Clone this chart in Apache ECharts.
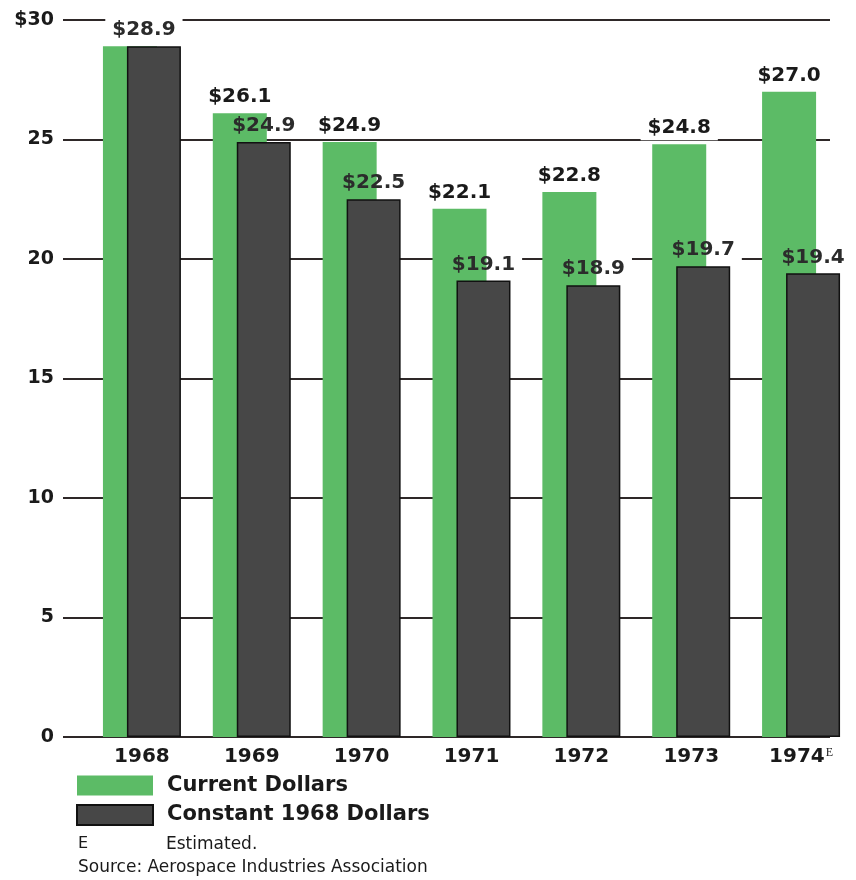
<!DOCTYPE html>
<html><head><meta charset="utf-8">
<script src="https://cdn.jsdelivr.net/npm/echarts@6/dist/echarts.min.js"></script>
<style>html,body{margin:0;padding:0;background:#fff}#c{width:856px;height:880px}</style>
</head><body><div id="c"></div>
<script>
const years = ['1968','1969','1970','1971','1972','1973','1974'];
const estimatedYear = '1974';
const currentDollars = [28.9, 26.1, 24.9, 22.1, 22.8, 24.8, 27.0];
const constantDollars = [28.9, 24.9, 22.5, 19.1, 18.9, 19.7, 19.4];
const yTicks = [0, 5, 10, 15, 20, 25, 30];
const yTickLabels = ['0', '5', '10', '15', '20', '25', '$30'];
const seriesNames = ['Current Dollars', 'Constant 1968 Dollars'];
const footnoteMark = 'E';
const footnoteText = 'Estimated.';
const sourceText = 'Source: Aerospace Industries Association';

const FONT = 'DejaVu Sans';
const GREEN = '#5cbb66', DARK = '#474747', INK = '#1a1a1a', RULE = '#2e2828';
const BAR_W = 54, BAR_GAP = '-55.6%';
const fmt = v => '$' + Number(v).toFixed(1);

const labelBase = {show: true, position: 'top', distance: 6, fontFamily: FONT, fontWeight: 'bold',
  fontSize: 20, color: INK, formatter: p => fmt(p.value)};
const maskLabel = Object.assign({}, labelBase, {distance: 4, color: 'rgba(0,0,0,0)',
  backgroundColor: '#ffffff', padding: [2, 7]});

// when both series are equal, show a single label shifted to the group centre
const same = currentDollars.map((v, i) => v === constantDollars[i]);
const currentData = currentDollars.map((v, i) => same[i] ? {value: v, label: {show: false}} : v);
const constantData = constantDollars.map((v, i) => same[i] ? {value: v, label: {offset: [-10, 0]}} : v);

const chart = echarts.init(document.getElementById('c'), null, {renderer: 'canvas'});
chart.setOption({
  animation: false,
  backgroundColor: '#ffffff',
  title: [
    {text: footnoteMark, left: 78, top: 836, padding: 0, textStyle: {fontFamily: FONT, fontSize: 16, fontWeight: 'normal', color: INK}},
    {text: footnoteText, left: 166, top: 836, padding: 0, textStyle: {fontFamily: FONT, fontSize: 17, fontWeight: 'normal', color: INK}},
    {text: sourceText, left: 78, top: 859, padding: 0, textStyle: {fontFamily: FONT, fontSize: 17, fontWeight: 'normal', color: INK}}
  ],
  legend: {
    data: seriesNames, orient: 'vertical', left: 76, top: 775, padding: 0,
    itemWidth: 76, itemHeight: 20, itemGap: 8, icon: 'rect', selectedMode: false,
    textStyle: {fontFamily: FONT, fontWeight: 'bold', fontSize: 21, color: INK, padding: [0, 0, 0, 9]}
  },
  grid: [
    {left: 63, right: 26, top: 20, bottom: 143},
    {left: 87, width: 770, top: 20, bottom: 143}
  ],
  xAxis: [
    {type: 'category', gridIndex: 1, data: years,
      axisLine: {show: false}, axisTick: {show: false},
      axisLabel: {interval: 0, margin: 10, fontFamily: FONT, fontWeight: 'bold', fontSize: 20, color: INK,
        formatter: v => v === estimatedYear ? v + '{sup|' + footnoteMark + '}' : v,
        rich: {sup: {fontFamily: 'Liberation Serif', fontWeight: 'normal', fontSize: 12, color: INK, verticalAlign: 'top', padding: [0, 0, 8, 1]}}}},
    {type: 'category', gridIndex: 1, data: years, show: false},
    {type: 'category', gridIndex: 0, data: years, show: false}
  ],
  yAxis: [
    {type: 'value', gridIndex: 0, min: 0, max: 30, interval: 5,
      axisLine: {show: false}, axisTick: {show: false},
      axisLabel: {margin: 9, fontFamily: FONT, fontWeight: 'bold', fontSize: 19, color: INK,
        formatter: v => yTickLabels[yTicks.indexOf(v)]},
      splitLine: {show: true, lineStyle: {color: RULE, width: 1.8}}},
    {type: 'value', gridIndex: 1, min: 0, max: 30, interval: 5, show: false, splitLine: {show: false}}
  ],
  series: [
    // white masks behind labels (below bars, above rules)
    {name: 'mask-current', type: 'bar', xAxisIndex: 1, yAxisIndex: 1, z: 1, silent: true,
      barWidth: BAR_W, barGap: BAR_GAP, itemStyle: {color: 'rgba(0,0,0,0)'},
      label: maskLabel, data: currentData},
    {name: 'mask-constant', type: 'bar', xAxisIndex: 1, yAxisIndex: 1, z: 1, silent: true,
      barWidth: BAR_W, barGap: BAR_GAP, itemStyle: {color: 'rgba(0,0,0,0)'},
      label: maskLabel, data: constantData},
    {name: seriesNames[0], type: 'bar', xAxisIndex: 0, yAxisIndex: 1, z: 2,
      barWidth: BAR_W, barGap: BAR_GAP, itemStyle: {color: GREEN},
      label: labelBase, data: currentData},
    {name: seriesNames[1], type: 'bar', xAxisIndex: 0, yAxisIndex: 1, z: 3,
      barWidth: BAR_W, barGap: BAR_GAP, itemStyle: {color: DARK, borderColor: '#111111', borderWidth: 1.5},
      label: Object.assign({}, labelBase, {color: '#2b2b2b'}), data: constantData}
  ]
});
</script></body></html>
